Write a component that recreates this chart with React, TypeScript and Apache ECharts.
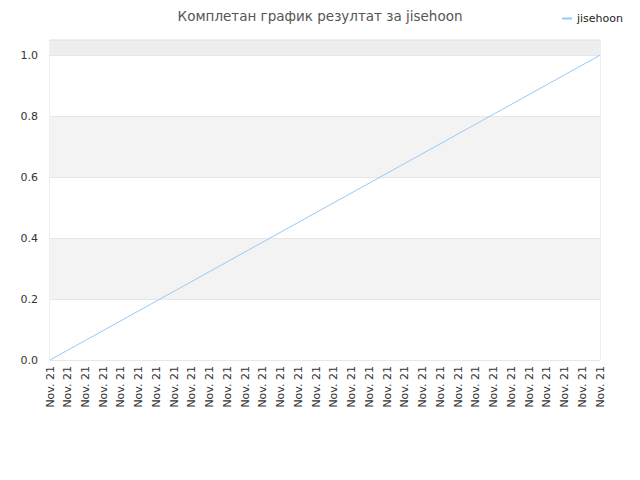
import * as echarts from 'echarts';
import { useEffect, useRef } from 'react';

const title = 'Комплетан график резултат за jisehoon';
const seriesName = 'jisehoon';
const categories: string[] = Array(32).fill('Nov. 21');
// only the first and last results are known; the rest is a straight run between them
const results: (number | null)[] = [0, ...Array(30).fill(null), 1];
const yTicks = [0, 0.2, 0.4, 0.6, 0.8, 1.0];

const font = 'DejaVu Sans';

export default function App() {
  const chartRef = useRef<HTMLDivElement>(null);

  useEffect(() => {
    if (!chartRef.current) return;
    const chart = echarts.init(chartRef.current, null, { renderer: 'svg' });
    chart.setOption({
      animation: false,
      backgroundColor: '#fff',
      title: {
        text: title,
        left: 'center',
        top: 4,
        textStyle: {
          color: '#555',
          fontSize: 13.5,
          fontWeight: 'normal',
          fontFamily: font,
        },
      },
      legend: {
        data: [seriesName],
        right: 12,
        top: 8,
        itemWidth: 10,
        itemHeight: 2,
        icon: 'rect',
        textStyle: { color: '#222', fontSize: 11, fontFamily: font },
      },
      grid: {
        left: 50,
        right: 40,
        top: 40,
        bottom: 120,
        show: true,
        borderColor: '#dddddd',
        borderWidth: 1,
      },
      xAxis: {
        type: 'category',
        data: categories,
        boundaryGap: false,
        axisLine: { show: false },
        axisTick: { show: false },
        axisLabel: {
          rotate: 90,
          interval: 0,
          margin: 6,
          color: '#333',
          fontSize: 11,
          fontFamily: font,
        },
      },
      yAxis: {
        type: 'value',
        min: yTicks[0],
        max: 1.05,
        interval: 0.2,
        axisLine: { show: false },
        axisTick: { show: false },
        axisLabel: {
          margin: 12,
          color: '#333',
          fontSize: 11,
          fontFamily: font,
          formatter: (v: number) =>
            yTicks.some((t) => Math.abs(t - v) < 1e-6) ? v.toFixed(1) : '',
        },
        splitLine: { lineStyle: { color: '#e6e6e6' } },
        splitArea: {
          show: true,
          areaStyle: {
            color: ['#ffffff', '#f3f3f3', '#ffffff', '#f3f3f3', '#ffffff', '#eeeeee'],
          },
        },
      },
      series: [
        {
          name: seriesName,
          type: 'line',
          data: results,
          connectNulls: true,
          showSymbol: false,
          lineStyle: { color: '#99c8f7', width: 1 },
          itemStyle: { color: '#99c8f7' },
        },
      ],
    });
    return () => {
      chart.dispose();
    };
  }, []);

  return (
    <div
      ref={chartRef}
      style={{ position: 'fixed', left: 0, top: 0, width: 640, height: 480 }}
    ></div>
  );
}
